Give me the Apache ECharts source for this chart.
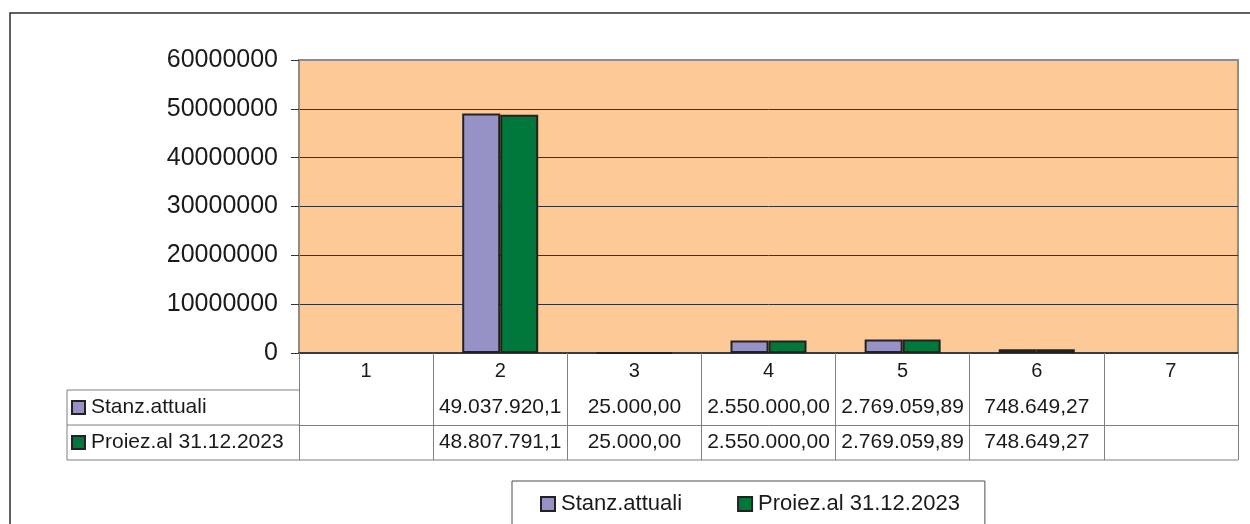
<!DOCTYPE html>
<html>
<head>
<meta charset="utf-8">
<script src="https://cdn.jsdelivr.net/npm/echarts@6/dist/echarts.min.js"></script>
<style>
  html, body { margin: 0; padding: 0; background: #fff; }
  #chart { width: 1250px; height: 524px; }
</style>
</head>
<body>
<div id="chart"></div>
<script>
// Categories and series values
const categories = ['1', '2', '3', '4', '5', '6', '7'];
const seriesNames = ['Stanz.attuali', 'Proiez.al 31.12.2023'];
const stanzAttuali = [null, 49037920.1, 25000.00, 2550000.00, 2769059.89, 748649.27, null];
const proiezione = [null, 48807791.1, 25000.00, 2550000.00, 2769059.89, 748649.27, null];
// Table cell texts as printed in the data table
const stanzLabels = ['', '49.037.920,1', '25.000,00', '2.550.000,00', '2.769.059,89', '748.649,27', ''];
const proiezLabels = ['', '48.807.791,1', '25.000,00', '2.550.000,00', '2.769.059,89', '748.649,27', ''];
// Value axis ticks
const yMin = 0, yMax = 60000000, yStep = 10000000;

const FONT = "'Liberation Sans', Arial, Helvetica, sans-serif";
const colors = ['#9692C6', '#00783C'];

// Layout
const W = 1250, H = 524;
const plotL = 299, plotR = 1238, plotT = 60, axisY = 353;
const rowH = [37, 35, 35];           // category row, series row 1, series row 2
const tableL = 67;
const row1Top = axisY + rowH[0];
const row2Top = row1Top + rowH[1];
const tableB = row2Top + rowH[2];

const chart = echarts.init(document.getElementById('chart'), null, { renderer: 'canvas' });

// A category axis used as one row of the data table (labels only, plus its top rule)
function rowAxis(labels, offset) {
  return {
    type: 'category', data: categories, gridIndex: 0, position: 'bottom', offset: offset,
    boundaryGap: true,
    axisLine: { show: true, lineStyle: { color: '#7f7f7f', width: 1 } },
    axisTick: { show: false },
    axisLabel: {
      show: true, interval: 0, margin: 7,
      formatter: (v, i) => labels[i],
      fontFamily: FONT, fontSize: 21, color: '#1a1a1a'
    },
    splitLine: { show: false }
  };
}

const graphics = [
  // outer chart frame
  { type: 'rect', shape: { x: 10, y: 13, width: W + 20, height: H + 20 },
    style: { fill: 'none', stroke: '#2b2b2b', lineWidth: 1.5 }, silent: true, z: 0 },
  // row-header cells of the data table
  { type: 'polyline', shape: { points: [[plotL, row1Top], [tableL, row1Top], [tableL, tableB], [plotR, tableB]] },
    style: { stroke: '#7f7f7f', lineWidth: 1, fill: 'none' }, silent: true },
  { type: 'line', shape: { x1: tableL, y1: row2Top, x2: plotL, y2: row2Top },
    style: { stroke: '#7f7f7f', lineWidth: 1 }, silent: true }
];
seriesNames.forEach((name, k) => {
  const cy = (k === 0 ? row1Top : row2Top) + rowH[k + 1] / 2;
  graphics.push({ type: 'rect', shape: { x: 72, y: cy - 6.5, width: 13, height: 13 },
    style: { fill: colors[k], stroke: '#222', lineWidth: 2 }, silent: true });
  graphics.push({ type: 'text', x: 91, y: cy,
    style: { text: name, fontFamily: FONT, fontSize: 21, fill: '#1a1a1a', verticalAlign: 'middle', align: 'left' },
    silent: true });
});

chart.setOption({
  animation: false,
  backgroundColor: '#ffffff',
  color: colors,
  textStyle: { fontFamily: FONT },
  grid: {
    left: plotL, top: plotT, right: W - plotR, bottom: H - axisY,
    show: true, backgroundColor: '#FDCA97', borderColor: '#8c8c8c', borderWidth: 2,
    containLabel: false, outerBoundsMode: 'none'
  },
  legend: {
    left: 512, top: 481,
    orient: 'horizontal',
    padding: [12, 25, 40, 28],
    itemGap: 55, itemWidth: 14, itemHeight: 14,
    borderColor: '#4d4d4d', borderWidth: 1, backgroundColor: '#ffffff',
    icon: 'rect',
    itemStyle: { borderColor: '#222', borderWidth: 2 },
    textStyle: { fontFamily: FONT, fontSize: 22, color: '#1a1a1a', padding: [0, 0, 0, 1] },
    data: seriesNames
  },
  xAxis: [
    {
      // category row; its boundary ticks run down through all table rows as cell dividers
      type: 'category', data: categories, gridIndex: 0, position: 'bottom', boundaryGap: true,
      axisLine: { show: true, onZero: false, lineStyle: { color: '#222', width: 1.5 } },
      axisTick: { show: true, interval: 0, length: rowH[0] + rowH[1] + rowH[2], lineStyle: { color: '#7f7f7f', width: 1 } },
      axisLabel: { show: true, interval: 0, margin: 8, fontFamily: FONT, fontSize: 20, color: '#1a1a1a' },
      splitLine: { show: false },
      z: 3
    },
    rowAxis(stanzLabels, rowH[0]),
    rowAxis(proiezLabels, rowH[0] + rowH[1])
  ],
  yAxis: {
    type: 'value', min: yMin, max: yMax, interval: yStep,
    axisLine: { show: true, lineStyle: { color: '#8c8c8c', width: 2 } },
    axisTick: { show: true, length: 8, lineStyle: { color: '#333', width: 1 } },
    axisLabel: { margin: 21, fontFamily: FONT, fontSize: 25, color: '#1a1a1a', formatter: v => String(v) },
    splitLine: { show: true, showMinLine: false, showMaxLine: false, lineStyle: { color: '#333', width: 1 } }
  },
  series: [
    { name: seriesNames[0], type: 'bar', data: stanzAttuali, barWidth: 38, barGap: '0%',
      itemStyle: { color: colors[0], borderColor: '#222', borderWidth: 2 } },
    { name: seriesNames[1], type: 'bar', data: proiezione, barWidth: 38, barGap: '0%',
      itemStyle: { color: colors[1], borderColor: '#222', borderWidth: 2 } }
  ],
  graphic: graphics
});
</script>
</body>
</html>
